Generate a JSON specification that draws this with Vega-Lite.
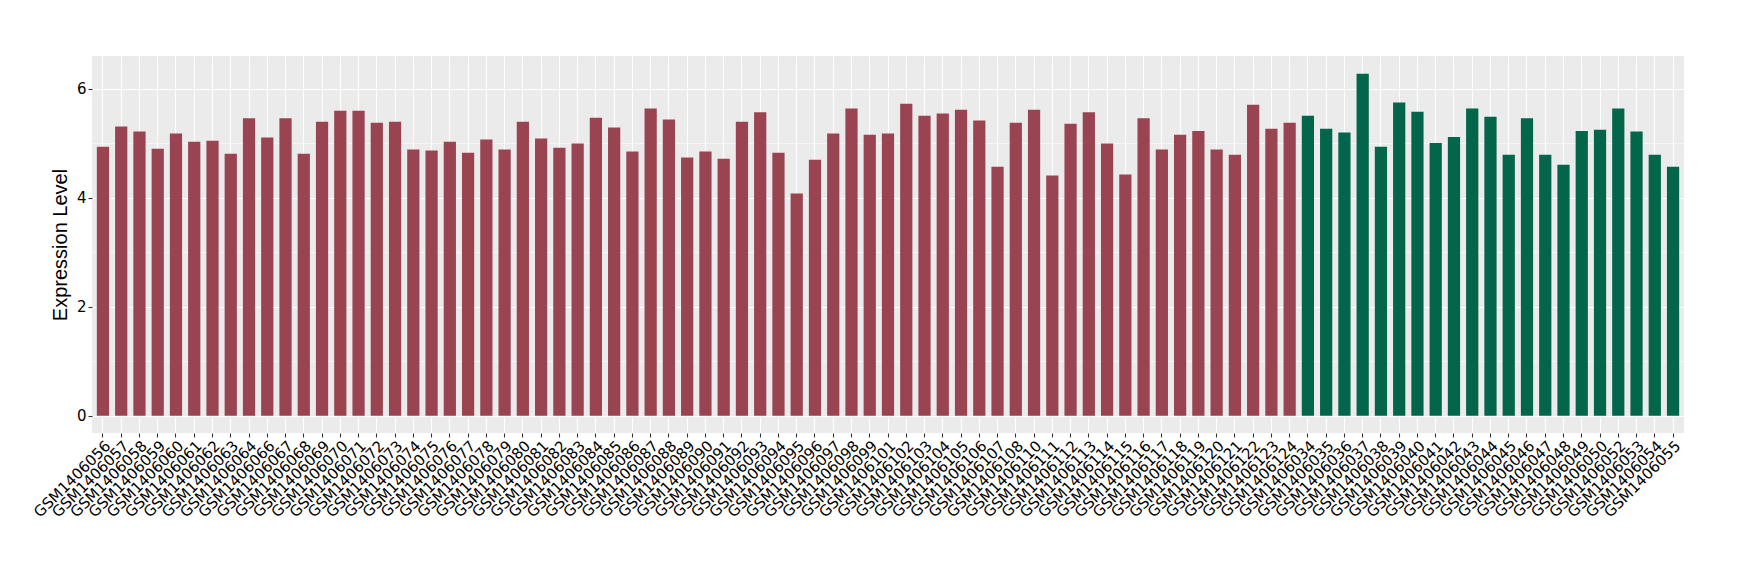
{
  "$schema": "https://vega.github.io/schema/vega-lite/v6.json",
  "autosize": {"type": "none"},
  "padding": {"left": 92, "top": 56, "right": 56, "bottom": 147},
  "width": 1592,
  "height": 377,
  "background": "white",
  "config": {
    "view": {"fill": "#EBEBEB", "stroke": null},
    "font": "Liberation Sans"
  },
  "data": {
    "values": [
      {"sample": "GSM1406056", "value": 4.94, "group": "A"},
      {"sample": "GSM1406057", "value": 5.31, "group": "A"},
      {"sample": "GSM1406058", "value": 5.22, "group": "A"},
      {"sample": "GSM1406059", "value": 4.90, "group": "A"},
      {"sample": "GSM1406060", "value": 5.18, "group": "A"},
      {"sample": "GSM1406061", "value": 5.03, "group": "A"},
      {"sample": "GSM1406062", "value": 5.05, "group": "A"},
      {"sample": "GSM1406063", "value": 4.81, "group": "A"},
      {"sample": "GSM1406064", "value": 5.46, "group": "A"},
      {"sample": "GSM1406066", "value": 5.11, "group": "A"},
      {"sample": "GSM1406067", "value": 5.46, "group": "A"},
      {"sample": "GSM1406068", "value": 4.81, "group": "A"},
      {"sample": "GSM1406069", "value": 5.40, "group": "A"},
      {"sample": "GSM1406070", "value": 5.60, "group": "A"},
      {"sample": "GSM1406071", "value": 5.60, "group": "A"},
      {"sample": "GSM1406072", "value": 5.38, "group": "A"},
      {"sample": "GSM1406073", "value": 5.40, "group": "A"},
      {"sample": "GSM1406074", "value": 4.89, "group": "A"},
      {"sample": "GSM1406075", "value": 4.87, "group": "A"},
      {"sample": "GSM1406076", "value": 5.03, "group": "A"},
      {"sample": "GSM1406077", "value": 4.83, "group": "A"},
      {"sample": "GSM1406078", "value": 5.07, "group": "A"},
      {"sample": "GSM1406079", "value": 4.89, "group": "A"},
      {"sample": "GSM1406080", "value": 5.40, "group": "A"},
      {"sample": "GSM1406081", "value": 5.09, "group": "A"},
      {"sample": "GSM1406082", "value": 4.92, "group": "A"},
      {"sample": "GSM1406083", "value": 5.00, "group": "A"},
      {"sample": "GSM1406084", "value": 5.47, "group": "A"},
      {"sample": "GSM1406085", "value": 5.29, "group": "A"},
      {"sample": "GSM1406086", "value": 4.85, "group": "A"},
      {"sample": "GSM1406087", "value": 5.64, "group": "A"},
      {"sample": "GSM1406088", "value": 5.44, "group": "A"},
      {"sample": "GSM1406089", "value": 4.74, "group": "A"},
      {"sample": "GSM1406090", "value": 4.85, "group": "A"},
      {"sample": "GSM1406091", "value": 4.72, "group": "A"},
      {"sample": "GSM1406092", "value": 5.40, "group": "A"},
      {"sample": "GSM1406093", "value": 5.57, "group": "A"},
      {"sample": "GSM1406094", "value": 4.83, "group": "A"},
      {"sample": "GSM1406095", "value": 4.08, "group": "A"},
      {"sample": "GSM1406096", "value": 4.70, "group": "A"},
      {"sample": "GSM1406097", "value": 5.18, "group": "A"},
      {"sample": "GSM1406098", "value": 5.64, "group": "A"},
      {"sample": "GSM1406099", "value": 5.16, "group": "A"},
      {"sample": "GSM1406101", "value": 5.18, "group": "A"},
      {"sample": "GSM1406102", "value": 5.73, "group": "A"},
      {"sample": "GSM1406103", "value": 5.51, "group": "A"},
      {"sample": "GSM1406104", "value": 5.55, "group": "A"},
      {"sample": "GSM1406105", "value": 5.62, "group": "A"},
      {"sample": "GSM1406106", "value": 5.42, "group": "A"},
      {"sample": "GSM1406107", "value": 4.57, "group": "A"},
      {"sample": "GSM1406108", "value": 5.38, "group": "A"},
      {"sample": "GSM1406110", "value": 5.62, "group": "A"},
      {"sample": "GSM1406111", "value": 4.41, "group": "A"},
      {"sample": "GSM1406112", "value": 5.36, "group": "A"},
      {"sample": "GSM1406113", "value": 5.57, "group": "A"},
      {"sample": "GSM1406114", "value": 5.00, "group": "A"},
      {"sample": "GSM1406115", "value": 4.43, "group": "A"},
      {"sample": "GSM1406116", "value": 5.46, "group": "A"},
      {"sample": "GSM1406117", "value": 4.89, "group": "A"},
      {"sample": "GSM1406118", "value": 5.16, "group": "A"},
      {"sample": "GSM1406119", "value": 5.23, "group": "A"},
      {"sample": "GSM1406120", "value": 4.89, "group": "A"},
      {"sample": "GSM1406121", "value": 4.79, "group": "A"},
      {"sample": "GSM1406122", "value": 5.71, "group": "A"},
      {"sample": "GSM1406123", "value": 5.27, "group": "A"},
      {"sample": "GSM1406124", "value": 5.38, "group": "A"},
      {"sample": "GSM1406034", "value": 5.51, "group": "B"},
      {"sample": "GSM1406035", "value": 5.27, "group": "B"},
      {"sample": "GSM1406036", "value": 5.20, "group": "B"},
      {"sample": "GSM1406037", "value": 6.28, "group": "B"},
      {"sample": "GSM1406038", "value": 4.94, "group": "B"},
      {"sample": "GSM1406039", "value": 5.75, "group": "B"},
      {"sample": "GSM1406040", "value": 5.58, "group": "B"},
      {"sample": "GSM1406041", "value": 5.01, "group": "B"},
      {"sample": "GSM1406042", "value": 5.12, "group": "B"},
      {"sample": "GSM1406043", "value": 5.64, "group": "B"},
      {"sample": "GSM1406044", "value": 5.49, "group": "B"},
      {"sample": "GSM1406045", "value": 4.79, "group": "B"},
      {"sample": "GSM1406046", "value": 5.46, "group": "B"},
      {"sample": "GSM1406047", "value": 4.79, "group": "B"},
      {"sample": "GSM1406048", "value": 4.61, "group": "B"},
      {"sample": "GSM1406049", "value": 5.23, "group": "B"},
      {"sample": "GSM1406050", "value": 5.25, "group": "B"},
      {"sample": "GSM1406052", "value": 5.64, "group": "B"},
      {"sample": "GSM1406053", "value": 5.22, "group": "B"},
      {"sample": "GSM1406054", "value": 4.79, "group": "B"},
      {"sample": "GSM1406055", "value": 4.57, "group": "B"}
    ]
  },
  "mark": {"type": "bar"},
  "encoding": {
    "x": {
      "field": "sample",
      "type": "nominal",
      "sort": null,
      "scale": {"paddingInner": 0.33, "paddingOuter": 0.265},
      "axis": {
        "title": null,
        "bandPosition": 0.5,
        "grid": true,
        "gridColor": "white",
        "gridWidth": 1.1,
        "domain": false,
        "ticks": true,
        "tickColor": "#333333",
        "tickSize": 4,
        "tickWidth": 1.1,
        "labelAngle": -45,
        "labelAlign": "right",
        "labelBaseline": "top",
        "labelFont": "DejaVu Sans",
        "labelFontSize": 15,
        "labelColor": "black",
        "labelPadding": 1,
        "labelOverlap": false,
        "labelBound": false
      }
    },
    "y": {
      "field": "value",
      "type": "quantitative",
      "scale": {"domain": [-0.3145, 6.6045], "nice": false, "zero": false},
      "axis": {
        "title": "Expression Level",
        "titleFont": "Liberation Sans",
        "titleFontSize": 20,
        "titleFontWeight": "normal",
        "titleColor": "black",
        "titlePadding": 6,
        "values": [0, 1, 2, 3, 4, 5, 6],
        "labelExpr": "datum.value % 2 === 0 ? datum.label : ''",
        "grid": true,
        "gridColor": "white",
        "gridWidth": {"condition": {"test": "datum.value % 2 === 1", "value": 0.55}, "value": 1.1},
        "domain": false,
        "tickColor": "#333333",
        "tickSize": 4,
        "tickWidth": 1.1,
        "tickOpacity": {"condition": {"test": "datum.value % 2 === 1", "value": 0}, "value": 1},
        "labelFont": "DejaVu Sans",
        "labelFontSize": 15,
        "labelColor": "black",
        "labelPadding": 2
      }
    },
    "color": {
      "field": "group",
      "type": "nominal",
      "scale": {"domain": ["A", "B"], "range": ["#9A4452", "#03664A"]},
      "legend": null
    }
  }
}
